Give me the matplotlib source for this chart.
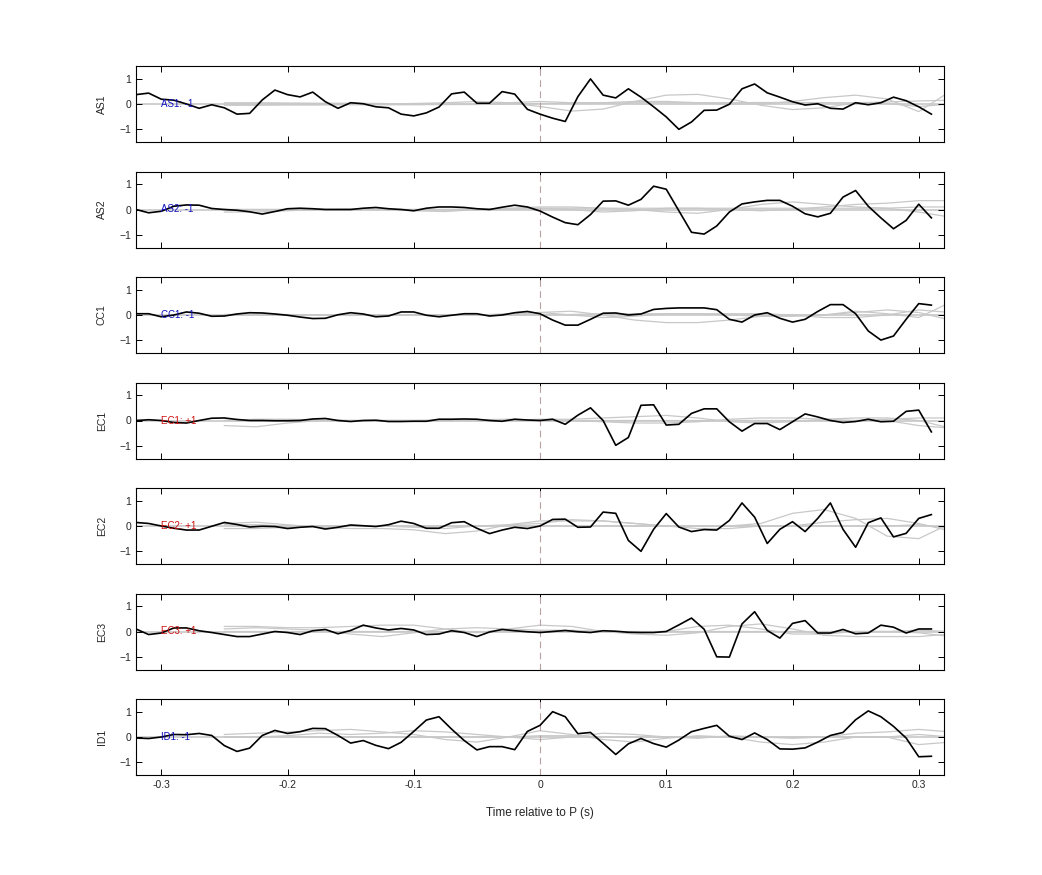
import numpy as np
import matplotlib
matplotlib.use("Agg")
import matplotlib.pyplot as plt

plt.rcParams['font.family'] = ['Liberation Sans', 'DejaVu Sans']

t = np.round(np.arange(-0.32, 0.315, 0.01), 3)  # 64 samples
tg = np.round(np.arange(-0.25, 0.33, 0.025), 3)  # 24 samples

names = ["AS1", "AS2", "CC1", "EC1", "EC2", "EC3", "ID1"]
labels = ["AS1: -1", "AS2: -1", "CC1: -1", "EC1: +1", "EC2: +1", "EC3: +1", "ID1: -1"]
label_colors = ["#1010c0", "#1010c0", "#1010c0", "#d01010", "#d01010", "#d01010", "#1010c0"]

AS1 = [0.37,0.43,0.19,0.15,0,-0.17,-0.03,-0.15,-0.4,-0.37,0.16,0.55,0.37,0.28,0.47,0.09,
       -0.17,0.05,0.01,-0.11,-0.15,-0.4,-0.47,-0.35,-0.12,0.4,0.47,0.03,0.03,0.49,0.39,-0.21,
       -0.4,-0.56,-0.69,0.29,0.99,0.35,0.24,0.6,0.27,-0.11,-0.51,-1.0,-0.71,-0.25,-0.24,-0.01,
       0.6,0.79,0.44,0.27,0.09,-0.04,0.01,-0.17,-0.2,0.05,-0.03,0.05,0.27,0.13,-0.11,-0.4]
AS2 = [0,-0.13,-0.07,0.13,0.18,0.17,0.04,0,-0.03,-0.09,-0.18,-0.08,0.03,0.05,0.03,0,
       0,0,0.05,0.08,0.03,0,-0.05,0.05,0.1,0.1,0.08,0.03,0,0.09,0.17,0.1,
       -0.06,-0.3,-0.52,-0.6,-0.2,0.33,0.34,0.17,0.4,0.92,0.8,-0.05,-0.9,-0.97,-0.65,-0.1,
       0.22,0.3,0.36,0.36,0.13,-0.17,-0.29,-0.15,0.49,0.75,0.13,-0.33,-0.76,-0.43,0.21,-0.33]
CC1 = [0.05,0.05,-0.07,0,0.12,0.07,-0.05,-0.04,0.04,0.09,0.08,0.04,-0.01,-0.08,-0.14,-0.13,
       0.01,0.09,0.04,-0.07,-0.04,0.12,0.12,-0.01,-0.07,-0.01,0.05,0.05,-0.04,0,0.09,0.14,
       0.05,-0.2,-0.4,-0.4,-0.17,0.07,0.08,0,0.04,0.22,0.26,0.28,0.28,0.28,0.21,-0.17,
       -0.28,0,0.09,-0.13,-0.28,-0.17,0.14,0.41,0.41,0.05,-0.63,-0.99,-0.83,-0.17,0.45,0.39]
EC1 = [0,0.03,0,-0.08,-0.1,0,0.09,0.1,0.04,0,0,-0.01,-0.01,0,0.06,0.08,
       0,-0.04,0,0.01,-0.04,-0.04,-0.03,-0.03,0.05,0.05,0.06,0.05,0,-0.03,0.05,0.02,
       0,0.05,-0.15,0.21,0.5,0,-0.98,-0.67,0.6,0.62,-0.18,-0.15,0.28,0.46,0.46,-0.05,
       -0.42,-0.12,-0.12,-0.36,-0.05,0.26,0.14,0,-0.08,-0.04,0.05,-0.05,-0.03,0.36,0.41,-0.45]
EC2 = [0.14,0.1,0,-0.09,-0.16,-0.16,-0.01,0.14,0.06,-0.04,-0.01,-0.02,-0.1,-0.05,-0.02,-0.12,
       -0.05,0.04,0.01,-0.02,0.05,0.19,0.1,-0.09,-0.09,0.13,0.17,-0.09,-0.3,-0.16,-0.05,-0.1,
       0,0.26,0.27,-0.05,-0.04,0.55,0.5,-0.57,-1.0,-0.13,0.49,-0.04,-0.22,-0.14,-0.16,0.22,
       0.91,0.35,-0.69,-0.13,0.17,-0.22,0.3,0.91,-0.13,-0.84,0.13,0.32,-0.43,-0.29,0.3,0.45]
EC3 = [0.1,-0.12,-0.06,0.14,0.14,0.03,-0.04,-0.12,-0.2,-0.2,-0.1,0,-0.04,-0.12,0.03,0.08,
       -0.09,0.04,0.25,0.14,0.06,0.12,0.06,-0.12,-0.1,0.03,-0.04,-0.2,-0.02,0.08,0.03,-0.01,
       -0.04,0,0.04,-0.01,-0.04,0.03,0.01,-0.03,-0.04,-0.04,0,0.26,0.53,0.09,-1.0,-1.01,
       0.3,0.78,0.04,-0.26,0.32,0.43,-0.06,-0.06,0.08,-0.09,-0.06,0.25,0.17,-0.06,0.1,0.1]
ID1 = [-0.04,-0.06,0,0.1,0.09,0.14,0.06,-0.34,-0.57,-0.44,0.06,0.26,0.14,0.21,0.34,0.33,
       0.06,-0.24,-0.14,-0.33,-0.46,-0.21,0.22,0.67,0.8,0.31,-0.14,-0.51,-0.38,-0.38,-0.5,0.22,
       0.46,1.0,0.8,0.13,0.18,-0.25,-0.69,-0.27,-0.06,-0.26,-0.4,-0.12,0.21,0.34,0.46,0.03,
       -0.1,0.16,-0.1,-0.47,-0.48,-0.43,-0.2,0.06,0.18,0.68,1.03,0.8,0.42,-0.04,-0.78,-0.76]
black = [AS1, AS2, CC1, EC1, EC2, EC3, ID1]

# gray reference traces (24 samples each, from -0.25 s)
AS1_g = [[0,0,0,0,0,0,0.02,0.05,0.1,0.05,-0.1,-0.28,-0.2,0.1,0.35,0.38,0.2,-0.05,-0.22,-0.15,0.05,0.02,-0.1,0.0],
         [0.05,0.05,0.04,0.03,0.03,0.02,0,-0.02,0,0.05,0.1,0.05,0.05,0.1,0.1,0.05,0,0,0.1,0.25,0.35,0.2,-0.3,0.5],
         [-0.05,-0.05,-0.04,-0.04,-0.03,-0.03,-0.03,-0.02,-0.02,0,0.02,0.03,0.04,0.05,0.05,0.05,0.05,0.06,0.06,0.05,0.05,0.08,0.12,0.15]]
AS2_g = [[-0.1,-0.1,-0.05,0,0.02,0,-0.05,-0.08,0,0.05,0.1,0.1,0.05,0,-0.1,-0.15,0,0.2,0.3,0.2,0.1,0.05,0.1,0.1],
         [0,0,0,0,0,0,0,0,0,0,0.05,0,-0.1,-0.05,0.05,0.05,0,-0.05,0,0.1,0.2,0.25,0.35,0.35],
         [0,0,0,0,0,0,0,0,0.02,0.03,0.05,0.05,0.05,0.05,0.05,0.05,0.05,0.05,0.05,0.05,0.05,0.05,-0.1,-0.3]]
CC1_g = [[0,0,0,0,0,0,0,0,0,0,0.1,0.15,0,-0.2,-0.3,-0.3,-0.2,-0.05,0,0,0.1,0.2,0.1,-0.2],
         [0.02,0.03,0.02,0,-0.02,0,0.02,0,0,0.05,0.1,0,-0.1,-0.05,0.05,0.05,0,-0.05,-0.05,0,0.15,0.05,-0.1,0.5],
         [0,0,0,0,0,0,0,0,0,0,0,0.02,0.05,0.05,0.05,0.05,0.05,0.05,0,-0.1,-0.1,0,0.2,0.1]]
EC1_g = [[-0.2,-0.25,-0.1,0,0,0,0,0,0,0,0.05,0.05,0.1,0.15,0.2,0.1,-0.05,-0.1,-0.05,0.05,0.1,0.1,0,-0.3],
         [0,0.05,0.05,0.02,0,0,0,0.02,0.03,0.05,0,0,-0.05,-0.1,-0.1,-0.05,0.05,0.1,0.1,0.05,0,0,-0.2,-0.3],
         [0,0,0,0,0,0,0,0,0,0,0,0,0,0,0,0,0,0,0,0,0,0.05,0.1,0.1]]
EC2_g = [[0.1,0.15,0.05,-0.05,-0.1,-0.1,-0.15,-0.3,-0.2,0.05,0.2,0.2,0.2,0.1,0,0,0,0.1,0.5,0.65,0.3,-0.4,-0.5,0.1],
         [-0.1,-0.1,-0.05,0,0,0,-0.05,-0.1,0,0.05,0.1,0.25,0.2,0.1,0,-0.1,-0.1,0,0,0.15,0.25,0.3,0.1,-0.2],
         [0.05,0.05,0,0,0,0,0,0,0,0,0,0,0,0,0,0,0,0,0,0,0,0,0.05,-0.1]]
EC3_g = [[0.2,0.2,0.15,0.15,0.2,0.25,0.25,0.1,-0.05,0.1,0.25,0.2,0,-0.1,-0.15,-0.05,0.2,0.3,0.1,-0.15,-0.2,-0.2,-0.2,-0.1],
         [0.1,0.15,0.1,0.05,-0.1,-0.2,-0.05,0.1,0.15,0.1,0.05,0.05,0,-0.05,0,0.2,0.25,0.1,-0.1,-0.1,0,0,-0.05,-0.2],
         [0,0,0,0,0,0,0,0,0,0,0,0,0,0,0,0,0,0,0,0,0,0,0.05,0]]
ID1_g = [[0.1,0.15,0.2,0.25,0.3,0.2,0.1,-0.1,-0.2,0,0.25,0.1,-0.1,-0.2,-0.05,0.05,0,-0.2,-0.3,-0.2,0,0,-0.3,-0.2],
         [0,0,0.05,0.15,0.1,0.15,0.25,0.2,0.1,0,-0.1,0,0.15,0.1,0,-0.05,0.05,0,-0.05,0,0.15,0.2,0.3,0.2],
         [0,0,0,0,0,0,0,0,0,0,0.05,0.05,0,0,0,0,0,0,0,0,0,0,0.1,0]]
gray = [AS1_g, AS2_g, CC1_g, EC1_g, EC2_g, EC3_g, ID1_g]

fig = plt.figure(figsize=(10.42, 8.75), dpi=100)
W, H = 1042, 875
for i in range(7):
    top = 66 + 105.5 * i
    ax = fig.add_axes([136 / W, 1 - (top + 76) / H, 808 / W, 76 / H])
    ax.axhline(0, color='#c8c8c8', lw=1.2, zorder=1)
    for g in gray[i]:
        ax.plot(tg, g, color='#c8c8c8', lw=0.9, zorder=1)
    ax.axvline(0, color='#b8a0a0', lw=0.8, ls=(0, (6, 4)), zorder=2)
    ax.plot(t, black[i], color='black', lw=1.2, zorder=3)
    ax.text(-0.30, 0, labels[i], color=label_colors[i], fontsize=7, va='center', ha='left', zorder=4)
    ax.set_xlim(-0.32, 0.32)
    ax.set_ylim(-1.5, 1.5)
    ax.set_yticks([-1, 0, 1])
    ax.set_xticks([-0.3, -0.2, -0.1, 0, 0.1, 0.2, 0.3])
    ax.tick_params(direction='in', top=True, right=True, labelsize=7.5, length=4, width=0.7,
                   labelcolor='#262626')
    ax.set_ylabel(names[i], fontsize=7.5, labelpad=9, color='#262626')
    for s in ax.spines.values():
        s.set_linewidth(0.8)
    if i < 6:
        ax.set_xticklabels([])
    else:
        ax.set_xticklabels(['-0.3', '-0.2', '-0.1', '0', '0.1', '0.2', '0.3'])
        ax.set_xlabel('Time relative to P (s)', fontsize=8.5, labelpad=12, color='#262626')

fig.savefig('out.png', dpi=100)
